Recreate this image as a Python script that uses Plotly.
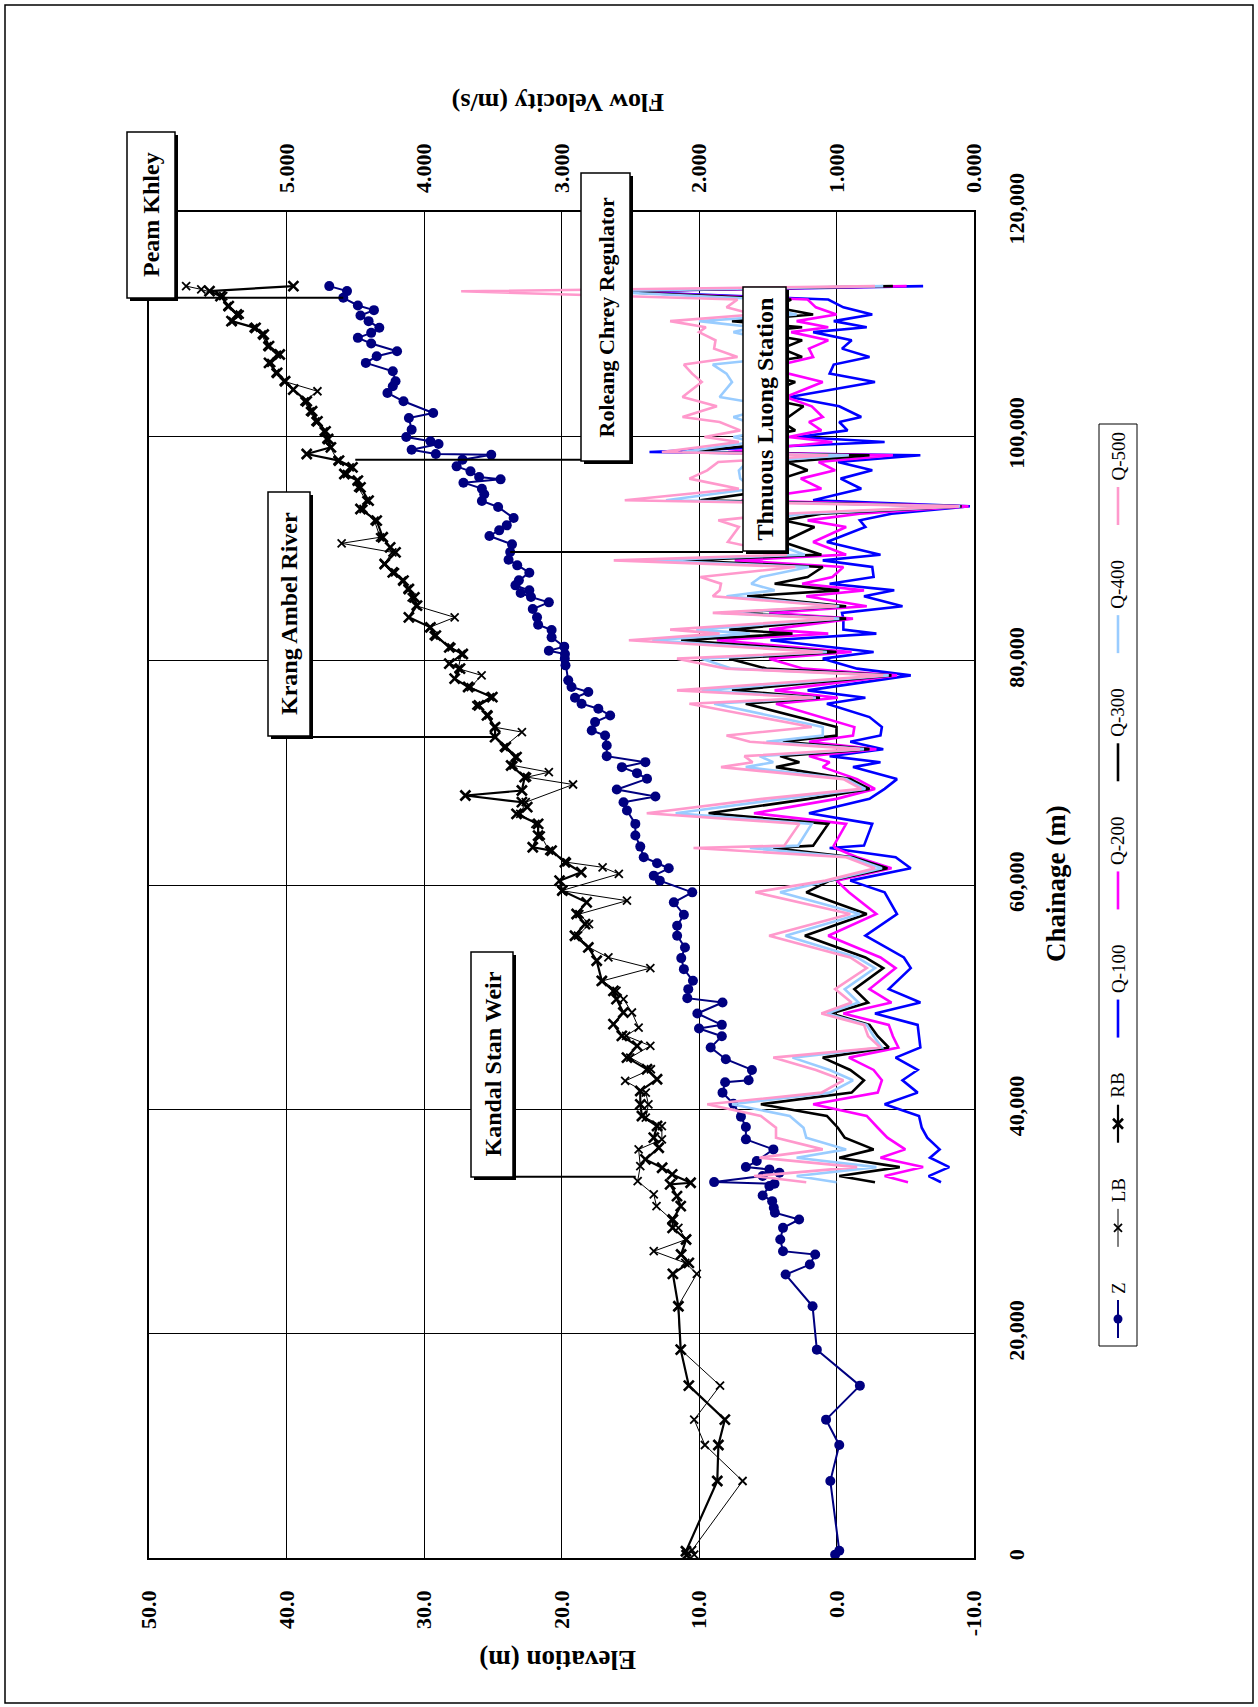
import plotly.graph_objects as go

# ---------------- data ----------------
# Bed elevation Z (chainage m, elevation m)
z_ch = [300, 650, 6865, 10075, 12334, 15365, 18575, 22442, 25269, 26162, 27054, 27352, 28394,
        29435, 30179, 30774, 31220, 31816, 32323, 33156, 33364, 33513, 34049, 34347, 34644,
        34853, 35388, 36430, 37323, 38424, 39347, 40500, 41489, 42412, 42590, 43513, 44465,
        45507, 46519, 47203, 47531, 48542, 49524, 49911, 50715, 51459, 52500, 53483, 54435,
        55477, 56369, 57351, 58452, 59346, 60389, 60835, 61490, 61936, 62471, 63424, 64406,
        65448, 66638, 67382, 67888, 68513, 69465, 69971, 70506, 70953, 71489, 72441, 73334,
        73780, 74524, 75119, 75715, 76161, 76697, 77203, 77649, 78244, 79583, 80179, 80593,
        80890, 81250, 82079, 82733, 83208, 83862, 84605, 85199, 85675, 86031, 86269, 86715,
        87161, 87844, 88499, 89004, 89687, 90371, 91114, 91619, 92065, 92719, 93699, 94234,
        94829, 95334, 95869, 96166, 96374, 96879, 97325, 97920, 98365, 98430, 98800, 99316,
        99554, 99942, 100597, 101638, 102085, 103126, 103870, 104465, 104912, 105805, 106549,
        107144, 107590, 108275, 108781, 109227, 109673, 110268, 110774, 111250, 111667,
        112352, 112947, 113393]
z_el = [0.1, -0.2, 0.45, -0.2, 0.76, -1.7, 1.43, 1.74, 3.70, 1.94, 1.55, 3.89, 4.09,
        3.89, 2.72, 4.48, 4.56, 4.68, 5.37, 4.88, 4.51, 8.90, 5.37, 4.15, 4.88,
        6.59, 5.80, 4.59, 6.59, 6.59, 6.95, 7.5, 8.29, 8.10, 6.39, 6.15, 8.05,
        9.15, 8.34, 10.0, 8.34, 10.12, 8.29, 10.85, 10.78, 10.44, 11.10, 11.29, 11.02,
        11.59, 11.59, 11.10, 11.83, 10.49, 12.85, 13.29, 12.20, 13.05, 14.02, 14.27, 14.63,
        14.63, 15.24, 15.49, 13.17, 15.98, 13.78, 14.51, 15.61, 13.90, 16.71, 16.71, 16.83,
        17.80, 17.56, 16.46, 17.32, 18.54, 19.02, 18.05, 19.27, 19.51, 19.71, 19.76, 19.75,
        20.92, 19.80, 20.72, 20.72, 21.70, 21.78, 22.09, 20.92, 22.22, 22.97, 22.34, 23.35,
        23.10, 22.34, 23.22, 23.85, 23.73, 23.60, 25.24, 24.53, 23.98, 23.48, 24.61, 25.79,
        25.62, 25.79, 27.13, 24.43, 25.99, 26.62, 27.63, 27.20, 25.11, 29.14, 30.90, 28.94,
        29.53, 31.29, 30.90, 31.10, 29.33, 31.49, 32.66, 32.27, 32.07, 32.27, 34.23,
        33.44, 31.96, 33.84, 34.81, 33.84, 33.25, 34.03, 34.62, 33.64, 34.81,
        35.87, 35.60, 36.89]

# Left bank crest LB
lb_ch = [300, 700, 6865, 10075, 12334, 15365, 18575, 22442, 25328, 26310, 27352, 28394, 29435,
         30179, 31369, 32411, 33602, 34940, 36430, 37322, 38512, 39256, 40446, 41489, 42531,
         43573, 44614, 45656, 46548, 47293, 48632, 49822, 50566, 51459, 52590, 53542, 54435,
         55477, 56518, 57411, 58600, 59496, 60984, 61579, 62025, 63067, 64406, 65447, 66340,
         67382, 68959, 69614, 70060, 70655, 71400, 72292, 73631, 74078, 75119, 76012, 76756,
         77649, 78690, 79286, 80592, 81187, 82227, 82970, 83862, 84902, 85645, 86388, 87131,
         87874, 88618, 89657, 90460, 91000, 92481, 93521, 94264, 95453, 96047, 96642, 97236,
         97830, 99019, 99762, 100448, 101340, 102233, 103126, 104019, 104912, 105656, 106549,
         107292, 108036, 109078, 109673, 110268, 110863, 111607, 112500, 113100, 113393]
lb_el = [10.35, 10.5, 6.83, 9.57, 10.35, 8.47, 11.33, 11.53, 10.16, 11.0, 13.29, 10.94, 11.5,
         12.0, 13.09, 13.29, 14.46, 14.27, 14.39, 12.70, 12.70, 13.87, 13.68, 13.87, 15.37,
         13.5, 15.0, 13.54, 15.3, 14.39, 14.88, 15.49, 16.0, 17.0, 13.54, 16.59, 18.0,
         18.8, 18.0, 18.7, 15.24, 20.0, 15.83, 17.01, 19.6, 20.9, 21.5, 21.9, 23.0,
         22.6, 19.16, 22.5, 20.92, 23.5, 23.4, 24.2, 22.88, 24.9, 25.3, 26.2, 25.2,
         26.6, 25.81, 27.5, 27.3, 28.0, 29.3, 29.6, 27.77, 30.6, 30.9, 31.2, 31.6,
         32.1, 32.9, 32.3, 35.99, 33.2, 33.6, 34.4, 34.2, 34.8, 34.9, 35.6, 35.4,
         36.3, 36.8, 37.1, 37.3, 37.9, 38.3, 38.7, 37.75, 40.2, 40.8, 41.1,
         40.7, 41.4, 41.8, 42.4, 43.9, 43.4, 44.3, 44.6, 46.2, 47.3]

# Right bank crest RB
rb_ch = [250, 600, 6865, 10075, 12334, 15365, 18575, 22442, 25328, 26310, 27054, 28394, 29435,
         30179, 31369, 32264, 33304, 33454, 34198, 34794, 35537, 36579, 37472, 38513, 39406,
         40448, 41638, 42680, 43573, 44614, 45656, 46548, 47590, 48632, 49822, 50566, 51459,
         53245, 54435, 55477, 56518, 57411, 58452, 59496, 60389, 61133, 62025, 63067, 63364,
         64406, 65447, 66340, 66936, 67382, 67977, 68424, 69614, 70655, 71400, 72292, 73185,
         74078, 75119, 76012, 76756, 77649, 78393, 79286, 79732, 80592, 81187, 82227, 82970,
         83862, 84902, 85645, 86388, 87131, 87874, 88618, 89657, 90103, 91000, 92481, 93521,
         94264, 95453, 96047, 96642, 97236, 97830, 98425, 99019, 99762, 100448, 101340, 102233,
         103126, 104168, 104912, 105656, 106549, 107292, 108036, 109078, 109673, 110268,
         110863, 111607, 112500, 112950, 113393]
rb_el = [10.9, 10.95, 8.67, 8.59, 8.12, 10.74, 11.33, 11.5, 11.9, 10.74, 11.3, 10.94, 11.92,
         11.9, 11.33, 11.6, 12.1, 10.61, 11.95, 12.68, 13.90, 12.93, 13.29, 13.05, 14.15,
         14.27, 14.27, 13.05, 13.78, 15.24, 14.5, 15.61, 16.22, 15.5, 16.0, 16.22, 17.07,
         17.44, 18.05, 19.02, 18.29, 18.90, 18.17, 19.94, 20.14, 18.57, 19.75, 20.72, 22.09,
         21.70, 21.70, 23.27, 22.49, 22.88, 26.99, 22.88, 22.68, 23.66, 23.27, 24.05, 24.83,
         24.83, 25.42, 26.01, 25.03, 26.79, 27.77, 27.38, 28.16, 27.18, 28.16, 29.14, 29.53,
         31.10, 30.51, 30.70, 31.10, 31.49, 32.27, 32.86, 32.07, 32.46, 33.0, 33.44, 34.62,
         34.03, 34.62, 34.81, 35.79, 35.20, 36.18, 38.53, 36.77, 36.97, 37.16, 37.75, 38.14,
         38.53, 39.51, 40.10, 40.68, 41.27, 40.49, 41.27, 41.66, 42.25, 44.0,
         43.6, 44.2, 44.8, 45.6, 39.5]

# Flow velocity (m/s) for the five discharge cases
q_ch = [33500, 34050, 34850, 35690, 36430, 37470, 38360, 39410, 40450, 41490, 42590, 43510,
        44610, 45510, 46520, 47530, 48540, 49520, 50720, 52590, 53540, 55480, 57410, 59350,
        60390, 61490, 62470, 63300, 63510, 65450, 66400, 67680, 68570, 69440, 70510, 70950,
        71490, 72110, 72770, 73330, 74080, 74970, 76160, 76700, 77350, 78690, 79290, 80180,
        80770, 81820, 82410, 82770, 83750, 84260, 84850, 85740, 86270, 86860, 87460, 88350,
        88940, 89450, 90580, 91920, 92510, 93100, 93760, 94300, 95330, 96230, 96970, 97710,
        98310, 98600, 99500, 99940, 100530, 101280, 101720, 102680, 103510, 104840, 105590,
        106400, 107070, 107820, 108560, 109290, 109730, 110270, 110860, 111500, 112200,
        112930, 113390]
q100 = [0.24, 0.33, 0.18, 0.32, 0.25, 0.34, 0.38, 0.40, 0.65, 0.41, 0.52, 0.41,
        0.57, 0.39, 0.40, 0.41, 0.72, 0.39, 0.62, 0.46, 0.51, 0.79, 0.56, 0.65,
        0.90, 0.46, 0.57, 1.05, 0.80, 0.74, 1.20, 0.76, 0.65, 0.56, 0.88, 0.68,
        1.05, 0.66, 0.90, 0.68, 0.67, 0.76, 1.07, 0.79, 1.21, 0.46, 0.85, 1.10,
        0.73, 1.48, 0.71, 0.95, 0.95, 0.96, 0.52, 0.80, 0.58, 1.05, 0.73, 0.74,
        1.10, 0.68, 1.07, 0.79, 0.83, 0.60, 0.03, 1.17, 0.82, 0.97, 0.74, 0.99,
        0.39, 2.36, 0.65, 1.28, 0.92, 0.98, 0.82, 0.98, 1.34, 0.72, 1.05,
        1.02, 0.76, 0.96, 0.89, 1.17, 0.78, 1.02, 0.74, 0.95, 1.06,
        2.60, 0.37]
q200 = [0.48, 0.65, 0.37, 0.68, 0.50, 0.63, 0.70, 0.78, 1.17, 0.70, 0.67, 0.73,
        0.91, 0.55, 0.59, 0.62, 0.95, 0.60, 0.76, 0.57, 0.68, 1.06, 0.71, 0.91,
        1.00, 0.60, 0.85, 1.01, 1.02, 0.93, 1.60, 1.00, 0.72, 0.85, 1.10, 1.05,
        1.20, 0.71, 1.20, 0.88, 0.87, 1.12, 1.44, 0.99, 1.45, 0.56, 1.24, 1.49,
        0.89, 1.87, 1.06, 1.49, 0.88, 1.49, 0.78, 1.22, 0.80, 1.25, 1.03, 0.95,
        1.74, 0.93, 1.17, 0.93, 1.21, 0.83, 0.04, 1.69, 1.11, 1.26, 1.01, 1.13,
        0.59, 1.79, 1.03, 1.35, 1.11, 1.20, 1.10, 1.18, 1.37, 1.10, 1.35,
        1.40, 1.17, 1.20, 1.06, 1.33, 1.06, 1.29, 1.00, 1.15, 1.21,
        2.65, 0.49]
q300 = [0.72, 0.98, 0.54, 0.98, 0.73, 0.94, 0.99, 1.07, 1.55, 0.89, 0.80, 0.90,
        1.10, 0.62, 0.70, 0.76, 1.04, 0.77, 0.87, 0.66, 0.79, 1.23, 0.78, 1.22,
        1.05, 0.63, 0.88, 1.46, 1.17, 1.06, 1.93, 1.20, 0.76, 0.90, 1.44, 1.27,
        1.41, 0.76, 1.39, 1.00, 1.00, 1.29, 1.66, 1.12, 1.76, 0.60, 1.51, 1.78,
        1.00, 2.13, 1.32, 1.78, 0.93, 1.78, 0.93, 1.65, 0.98, 1.45, 1.21, 1.10,
        2.12, 1.11, 1.39, 1.16, 1.39, 1.11, 0.09, 1.99, 1.39, 1.40, 1.21, 1.36,
        0.76, 2.07, 1.36, 1.55, 1.30, 1.40, 1.35, 1.24, 1.57, 1.30, 1.55,
        1.60, 1.25, 1.40, 1.25, 1.60, 1.25, 1.76, 1.17, 1.45, 1.33,
        2.70, 0.59]
q400 = [1.00, 1.29, 0.71, 1.29, 0.93, 1.22, 1.24, 1.34, 1.76, 1.05, 0.88, 1.05,
        1.32, 0.67, 0.73, 0.78, 1.07, 0.84, 0.94, 0.72, 0.85, 1.37, 0.83, 1.41,
        1.06, 0.67, 0.90, 1.63, 1.28, 1.18, 2.17, 1.39, 0.79, 0.93, 1.66, 1.46,
        1.56, 0.80, 1.51, 1.10, 1.10, 1.44, 1.89, 1.15, 1.98, 0.62, 1.76, 1.98,
        1.07, 2.34, 1.63, 2.02, 0.98, 1.84, 0.98, 1.80, 1.45, 1.62, 1.55, 1.20,
        2.37, 1.23, 1.49, 1.36, 1.61, 1.23, 0.10, 2.24, 1.61, 1.70, 1.71, 1.65,
        0.91, 2.12, 1.61, 1.75, 1.50, 1.65, 1.75, 1.45, 1.85, 1.76, 1.80,
        1.90, 1.37, 1.60, 1.48, 1.75, 1.60, 2.00, 1.29, 1.55, 1.50,
        2.75, 0.66]
q500 = [1.22, 1.60, 0.85, 1.56, 1.10, 1.44, 1.44, 1.55, 1.94, 1.11, 0.95, 1.15,
        1.46, 0.68, 0.77, 0.80, 1.11, 0.89, 1.01, 0.78, 0.90, 1.49, 0.90, 1.59,
        1.08, 0.72, 0.93, 2.04, 1.38, 1.27, 2.38, 1.54, 0.82, 0.95, 1.84, 1.61,
        1.67, 0.83, 1.63, 1.80, 1.18, 1.56, 2.07, 1.17, 2.16, 0.66, 1.80, 2.16,
        1.10, 2.51, 1.85, 2.21, 1.02, 1.90, 1.00, 1.90, 1.85, 1.84, 1.99, 1.30,
        2.62, 1.36, 1.79, 1.71, 1.86, 1.39, 0.11, 2.54, 1.71, 2.07, 1.94, 1.86,
        1.06, 2.27, 1.71, 1.96, 1.70, 1.85, 2.12, 1.87, 2.12, 1.98, 2.05,
        2.11, 1.72, 1.89, 1.88, 2.00, 1.95, 2.21, 1.60, 1.80, 1.72,
        3.73, 0.72]

elev_ticks = [50, 40, 30, 20, 10, 0, -10]
elev_labels = ["50.0", "40.0", "30.0", "20.0", "10.0", "0.0", "-10.0"]
vel_ticks = [5, 4, 3, 2, 1, 0]
vel_labels = ["5.000", "4.000", "3.000", "2.000", "1.000", "0.000"]
ch_ticks = [0, 20000, 40000, 60000, 80000, 100000, 120000]
ch_labels = ["0", "20,000", "40,000", "60,000", "80,000", "100,000", "120,000"]

# Landmarks: (text, font size, box left, top, right, bottom in px,
#             leader target chainage, target elevation)
landmarks = [
    ("Peam Khley", 24, 127, 132, 175, 298, 112352, 35.87),
    ("Roleang Chrey Regulator", 22, 581, 173, 630, 461, 97920, 35.0),
    ("Krang Ambel River", 24, 268, 492, 310, 736, 73185, 24.83),
    ("Kandal Stan Weir", 24, 471, 952, 513, 1177, 34000, 14.6),
    ("Thnuous Luong Station", 24, 743, 287, 786, 551, 89687, 23.73),
]

# ---------------- layout helpers ----------------
W, H = 1258, 1707
PL, PR, PT, PB = 149, 974, 212, 1558
FONT = "Liberation Serif"
E_HI, E_LO = 50, -10


def fx(px):
    return px / W


def fy(py):
    return 1 - py / H


def px_to_elev(px):
    return E_HI - (px - PL) / (PR - PL) * (E_HI - E_LO)


def bold(labels):
    return ["<b>%s</b>" % s for s in labels]


fig = go.Figure()

fig.add_trace(go.Scatter(x=z_el, y=z_ch, name="Z", mode="lines+markers",
                         line=dict(color="#000080", width=2),
                         marker=dict(symbol="circle", size=10, color="#000080")))
fig.add_trace(go.Scatter(x=lb_el, y=lb_ch, name="LB", mode="lines+markers",
                         line=dict(color="black", width=1),
                         marker=dict(symbol="x-thin", size=8, color="black",
                                     line=dict(color="black", width=1.8))))
fig.add_trace(go.Scatter(x=rb_el, y=rb_ch, name="RB", mode="lines+markers",
                         line=dict(color="black", width=2.2),
                         marker=dict(symbol="x-thin", size=10, color="black",
                                     line=dict(color="black", width=2.6))))

q_series = [("Q-100", q100, "#0000FF"), ("Q-200", q200, "#FF00FF"),
            ("Q-300", q300, "#000000"), ("Q-400", q400, "#99CCFF"),
            ("Q-500", q500, "#FF99CC")]
for name, vals, col in q_series:
    fig.add_trace(go.Scatter(x=vals, y=q_ch, name=name, mode="lines", xaxis="x2",
                             line=dict(color=col, width=2.6)))

tickfont = dict(family=FONT, size=22, color="black")

# ---------------- legend (vertical, reading bottom to top) ----------------
LEG_L, LEG_R, LEG_T, LEG_B = 1099, 1137, 424, 1346
leg_x = (LEG_L + LEG_R) / 2
leg_items = [
    ("Z", dict(color="#000080", width=2), dict(symbol="circle", size=9, color="#000080"), 12),
    ("LB", dict(color="black", width=1), dict(symbol="x-thin", size=8, color="black",
                                              line=dict(color="black", width=1.8)), 25),
    ("RB", dict(color="black", width=2.2), dict(symbol="x-thin", size=10, color="black",
                                                line=dict(color="black", width=2.6)), 26),
    ("Q-100", dict(color="#0000FF", width=2.6), None, 49),
    ("Q-200", dict(color="#FF00FF", width=2.6), None, 49),
    ("Q-300", dict(color="#000000", width=2.6), None, 49),
    ("Q-400", dict(color="#99CCFF", width=2.6), None, 49),
    ("Q-500", dict(color="#FF99CC", width=2.6), None, 49),
]
SAMPLE, GAP_TXT = 38, 6
total = sum(SAMPLE + GAP_TXT + t for *_, t in leg_items)
spacing = (LEG_B - LEG_T - 16 - total) / (len(leg_items) - 1)
annotations = []
cur = LEG_B - 8
for name, ln, mk, tlen in leg_items:
    y0, y1 = cur, cur - SAMPLE
    fig.add_trace(go.Scatter(x=[leg_x, leg_x], y=[y0, y1], mode="lines", line=ln,
                             xaxis="x3", yaxis="y3", hoverinfo="skip", cliponaxis=False))
    if mk:
        fig.add_trace(go.Scatter(x=[leg_x], y=[(y0 + y1) / 2], mode="markers", marker=mk,
                                 xaxis="x3", yaxis="y3", hoverinfo="skip", cliponaxis=False))
    t0 = y1 - GAP_TXT
    annotations.append(dict(x=fx(leg_x), y=fy(t0 - tlen / 2), xref="paper", yref="paper",
                            text=name, textangle=-90, showarrow=False,
                            xanchor="center", yanchor="middle",
                            font=dict(family=FONT, size=19, color="black")))
    cur = t0 - tlen - spacing

# ---------------- shapes: frame, landmark boxes, leaders ----------------
shapes = [dict(type="rect", xref="paper", yref="paper", x0=fx(5), x1=fx(1253),
               y0=fy(1703), y1=fy(5), line=dict(color="black", width=1.5), layer="below"),
          dict(type="rect", xref="paper", yref="paper", x0=fx(LEG_L), x1=fx(LEG_R),
               y0=fy(LEG_B), y1=fy(LEG_T), line=dict(color="black", width=1))]

for text, fsize, l, t, r, b, tch, tel in landmarks:
    cx = (l + r) / 2
    cy = (t + b) / 2
    # leader from the box to the marked point
    if tel > px_to_elev(r):
        start = px_to_elev(l)
    else:
        start = px_to_elev(r)
    shapes.append(dict(type="line", xref="x", yref="y", x0=start, x1=tel, y0=tch, y1=tch,
                       line=dict(color="black", width=2), layer="above"))
    shapes.append(dict(type="rect", xref="paper", yref="paper", x0=fx(l + 3), x1=fx(r + 3),
                       y0=fy(b + 3), y1=fy(t + 3), fillcolor="black",
                       line=dict(color="black", width=0), layer="above"))
    shapes.append(dict(type="rect", xref="paper", yref="paper", x0=fx(l), x1=fx(r),
                       y0=fy(b), y1=fy(t), fillcolor="white",
                       line=dict(color="black", width=1.5), layer="above"))
    annotations.append(dict(x=fx(cx), y=fy(cy), xref="paper", yref="paper",
                            text="<b>%s</b>" % text, textangle=-90, showarrow=False,
                            xanchor="center", yanchor="middle",
                            font=dict(family=FONT, size=fsize, color="black")))

# axis titles
annotations += [
    dict(x=fx(558), y=fy(103), xref="paper", yref="paper", text="<b>Flow Velocity (m/s)</b>",
         textangle=180, showarrow=False, xanchor="center", yanchor="middle",
         font=dict(family=FONT, size=26, color="black")),
    dict(x=fx(558), y=fy(1660), xref="paper", yref="paper", text="<b>Elevation (m)</b>",
         textangle=180, showarrow=False, xanchor="center", yanchor="middle",
         font=dict(family=FONT, size=27, color="black")),
    dict(x=fx(1056), y=fy(884), xref="paper", yref="paper", text="<b>Chainage (m)</b>",
         textangle=-90, showarrow=False, xanchor="center", yanchor="middle",
         font=dict(family=FONT, size=27, color="black")),
]

fig.update_layout(
    template="none",
    width=W, height=H, showlegend=False,
    margin=dict(l=0, r=0, t=0, b=0, pad=0, autoexpand=False),
    paper_bgcolor="white", plot_bgcolor="rgba(0,0,0,0)",
    xaxis=dict(domain=[fx(PL), fx(PR)], range=[E_HI, E_LO], anchor="y", automargin=False,
               tickmode="array", tickvals=elev_ticks, ticktext=bold(elev_labels),
               tickangle=-90, tickfont=tickfont, ticks="", ticklabelstandoff=22,
               showgrid=True, gridcolor="black", gridwidth=1, zeroline=False,
               showline=True, linecolor="black", linewidth=1.5, mirror=True),
    xaxis2=dict(overlaying="x", side="top", range=[6, 0], anchor="y", automargin=False,
                tickmode="array", tickvals=vel_ticks, ticktext=bold(vel_labels),
                tickangle=-90, tickfont=tickfont, ticks="", ticklabelstandoff=18,
                showgrid=False, zeroline=False, showline=False),
    yaxis=dict(domain=[fy(PB), fy(PT)], range=[0, 120000], side="right", anchor="x",
               automargin=False,
               tickmode="array", tickvals=ch_ticks, ticktext=bold(ch_labels),
               tickangle=-90, tickfont=tickfont, ticks="", ticklabelstandoff=22,
               showgrid=True, gridcolor="black", gridwidth=1, zeroline=False,
               showline=True, linecolor="black", linewidth=1.5, mirror=True),
    xaxis3=dict(domain=[0, 1], range=[0, W], anchor="y3", visible=False, fixedrange=True,
                automargin=False),
    yaxis3=dict(domain=[0, 1], range=[H, 0], anchor="x3", visible=False, fixedrange=True,
                automargin=False),
    shapes=shapes,
    annotations=annotations,
)

fig.write_html("out.html")
